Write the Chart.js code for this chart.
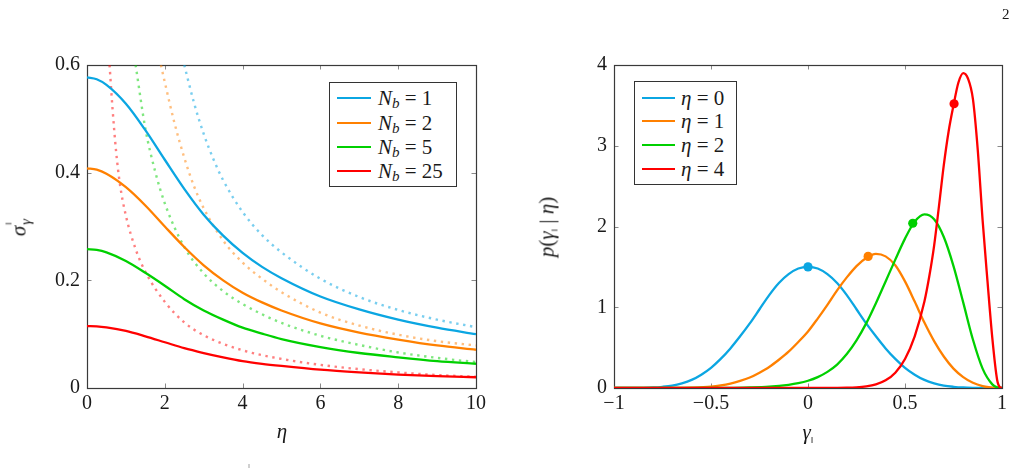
<!DOCTYPE html>
<html>
<head>
<meta charset="utf-8">
<script src="https://cdn.jsdelivr.net/npm/chart.js@4"></script>
<style>
  body { margin: 0; background: #fff; width: 1022px; height: 472px; position: relative; overflow: hidden; color: #1a1a1a; }
  body, div, span, i, sub { font-family: "Liberation Serif", "Times New Roman", serif; }
  canvas { position: absolute; top: 0; }
  #leftChart { left: 0; }
  #rightChart { left: 511px; }
  .txt { position: absolute; white-space: nowrap; font-size: 21px; line-height: 1; }
  .rot { transform: translate(-50%, -50%) rotate(-90deg); }
  .ctr { transform: translate(-50%, -50%); }
  .legend { position: absolute; border: 1px solid #333; background: #fff; box-sizing: border-box; }
  .legend .row { position: absolute; left: 0; height: 24px; line-height: 24px; font-size: 21px; white-space: nowrap; }
  .legend .swatch { position: absolute; height: 2.4px; }
  .legend .lab { position: absolute; top: 0; }
  .legend sub { font-size: 15px; vertical-align: -3px; line-height: 0; }
</style>
</head>
<body>
<canvas id="leftChart" width="511" height="472"></canvas>
<canvas id="rightChart" width="511" height="472"></canvas>

<div class="txt" style="left:1002px; top:7px; font-size:15px;">2</div>
<div class="txt" style="left:248px; top:463px; font-size:7px; color:#777;">‖</div>

<div class="txt rot" style="left:19px; top:226px;"><i>σ</i><span style="position:relative; display:inline-block; width:10px; height:14px;"><span style="position:absolute; left:1px; top:-7px; font-size:9px;">‖</span><span style="position:absolute; left:1px; top:7px; font-size:15px;"><i>γ</i></span></span></div>
<div class="txt ctr" style="left:282px; top:431px;"><i>η</i></div>

<div class="txt rot" style="left:547px; top:227px;"><i>p</i>(<i>γ</i><span style="font-size:9px; position:relative; top:4px;">‖</span> | <i>η</i>)</div>
<div class="txt ctr" style="left:808px; top:432px;"><i>γ</i><span style="font-size:9px; position:relative; top:4px;">‖</span></div>

<div class="legend" id="legendL" style="left:329px; top:82px; width:128px; height:105px;"></div>
<div class="legend" id="legendR" style="left:634px; top:81px; width:103px; height:104px;"></div>

<script>
// ---- left panel: sigma vs eta ----
var nbValues = [1, 2, 5, 25];
var etaSolid = [0, 0.25, 0.5, 1, 1.5, 2, 2.5, 3, 3.5, 4, 4.5, 5, 6, 7, 8, 9, 10];
var sigmaNb1 = [0.577, 0.5735, 0.563, 0.528, 0.479, 0.424, 0.370, 0.322, 0.283, 0.251, 0.225, 0.204, 0.170, 0.146, 0.127, 0.112, 0.100];
var sigmaNb2 = [0.408, 0.4055, 0.398, 0.373, 0.339, 0.300, 0.262, 0.228, 0.200, 0.177, 0.159, 0.144, 0.120, 0.103, 0.090, 0.079, 0.071];
var sigmaNb5 = [0.258, 0.2565, 0.252, 0.236, 0.214, 0.190, 0.165, 0.144, 0.127, 0.112, 0.101, 0.091, 0.076, 0.065, 0.057, 0.050, 0.045];
var sigmaNb25 = [0.115, 0.1145, 0.1125, 0.106, 0.096, 0.085, 0.074, 0.065, 0.057, 0.050, 0.045, 0.041, 0.034, 0.029, 0.025, 0.022, 0.020];

// dotted (asymptotic) curves, each starts where it enters the plot at 0.6
var etaAsymNb1 = [2.5, 2.75, 3, 3.25, 3.5, 4, 4.5, 5, 6, 7, 8, 9, 10];
var asymNb1 = [0.600, 0.530, 0.472, 0.425, 0.386, 0.327, 0.284, 0.252, 0.203, 0.169, 0.145, 0.127, 0.113];
var etaAsymNb2 = [1.9, 2, 2.25, 2.5, 2.75, 3, 3.5, 4, 4.5, 5, 6, 7, 8, 9, 10];
var asymNb2 = [0.600, 0.568, 0.492, 0.428, 0.375, 0.334, 0.274, 0.233, 0.203, 0.178, 0.140, 0.116, 0.099, 0.087, 0.079];
var etaAsymNb5 = [1.25, 1.5, 1.75, 2, 2.5, 3, 3.5, 4, 4.5, 5, 6, 7, 8, 9, 10];
var asymNb5 = [0.600, 0.482, 0.403, 0.343, 0.262, 0.213, 0.180, 0.156, 0.137, 0.121, 0.097, 0.080, 0.066, 0.056, 0.048];
var etaAsymNb25 = [0.58, 0.65, 0.75, 0.85, 1, 1.25, 1.5, 2, 2.5, 3, 4, 5, 6, 7, 8, 9, 10];
var asymNb25 = [0.600, 0.525, 0.438, 0.377, 0.320, 0.258, 0.216, 0.160, 0.122, 0.098, 0.070, 0.054, 0.043, 0.035, 0.029, 0.024, 0.021];

// ---- right panel: p(gamma | eta) ----
var etaValues = [0, 1, 2, 4];
var gammaEta0 = [-1, -0.9, -0.85, -0.8, -0.75, -0.7, -0.65, -0.6, -0.55, -0.5, -0.45, -0.4, -0.35, -0.3, -0.25, -0.2, -0.15, -0.1, -0.05, 0,
                 0.05, 0.1, 0.15, 0.2, 0.25, 0.3, 0.35, 0.4, 0.45, 0.5, 0.55, 0.6, 0.65, 0.7, 0.75, 0.8, 0.85, 0.9, 1];
var pEta0 = [0, 0.0005, 0.002, 0.006, 0.015, 0.03, 0.058, 0.10, 0.165, 0.25, 0.36, 0.49, 0.64, 0.80, 0.975, 1.15, 1.30, 1.41, 1.48, 1.50,
             1.48, 1.41, 1.30, 1.15, 0.975, 0.80, 0.64, 0.49, 0.36, 0.25, 0.165, 0.10, 0.058, 0.03, 0.015, 0.006, 0.002, 0.0005, 0];
var gammaEta1 = [-1, -0.8, -0.7, -0.6, -0.5, -0.45, -0.4, -0.35, -0.3, -0.25, -0.2, -0.15, -0.1, -0.05, 0, 0.05, 0.1, 0.15, 0.2, 0.25,
                 0.3, 0.35, 0.4, 0.45, 0.5, 0.55, 0.6, 0.65, 0.7, 0.75, 0.8, 0.85, 0.9, 0.95, 1];
var pEta1 = [0, 0, 0.001, 0.005, 0.017, 0.032, 0.055, 0.088, 0.13, 0.19, 0.26, 0.35, 0.45, 0.57, 0.70, 0.86, 1.03, 1.21, 1.37, 1.51,
             1.61, 1.66, 1.63, 1.52, 1.32, 1.07, 0.81, 0.58, 0.39, 0.24, 0.135, 0.065, 0.024, 0.005, 0];
var gammaEta2 = [-1, -0.5, -0.4, -0.3, -0.2, -0.1, -0.05, 0, 0.05, 0.1, 0.15, 0.2, 0.25, 0.3, 0.35, 0.4, 0.45, 0.5, 0.55, 0.6,
                 0.65, 0.7, 0.75, 0.8, 0.85, 0.9, 0.95, 0.975, 1];
var pEta2 = [0, 0, 0.002, 0.006, 0.016, 0.04, 0.06, 0.09, 0.135, 0.20, 0.29, 0.42, 0.59, 0.80, 1.05, 1.32, 1.59, 1.85, 2.06, 2.15,
             2.09, 1.87, 1.51, 1.06, 0.60, 0.24, 0.045, 0.008, 0];
var gammaEta4 = [-1, 0.1, 0.2, 0.25, 0.3, 0.35, 0.4, 0.45, 0.5, 0.55, 0.6, 0.625, 0.65, 0.675, 0.7, 0.725, 0.75, 0.775, 0.8,
                 0.825, 0.85, 0.875, 0.9, 0.925, 0.95, 0.975, 0.99, 1];
var pEta4 = [0, 0, 0.003, 0.008, 0.02, 0.045, 0.095, 0.19, 0.36, 0.64, 1.07, 1.38, 1.76, 2.25, 2.76, 3.18, 3.50, 3.78, 3.90,
             3.83, 3.58, 2.95, 2.08, 1.33, 0.62, 0.10, 0.008, 0];
// marked points on each curve
var markGamma = [0, 0.31, 0.54, 0.753];
var markP = [1.50, 1.63, 2.04, 3.52];

var colors = ['#0ba6e2', '#ff8000', '#00d000', '#ff0000'];
var fadeColors = ['rgba(11,166,226,0.55)', 'rgba(255,128,0,0.5)', 'rgba(0,208,0,0.5)', 'rgba(255,0,0,0.5)'];
var serifFamily = '"Liberation Serif", "Times New Roman", serif';
var tickFont = { family: serifFamily, size: 20 };

function pts(xs, ys) {
  return xs.map(function (x, i) { return { x: x, y: ys[i] }; });
}

function minusSign(v) {
  return String(v).replace('-', '\u2212');
}

// frame + inward ticks on all four sides (pgfplots look)
var framePlugin = {
  id: 'frame',
  beforeDatasetsDraw: function (chart) {
    var ctx = chart.ctx, a = chart.chartArea, sx = chart.scales.x, sy = chart.scales.y;
    var tl = 4.5;
    ctx.save();
    ctx.strokeStyle = '#8a8a8a';
    ctx.lineWidth = 1;
    ctx.beginPath();
    sx.ticks.forEach(function (t) {
      var px = Math.round(sx.getPixelForValue(t.value)) + 0.5;
      ctx.moveTo(px, a.bottom); ctx.lineTo(px, a.bottom - tl);
      ctx.moveTo(px, a.top); ctx.lineTo(px, a.top + tl);
    });
    sy.ticks.forEach(function (t) {
      var py = Math.round(sy.getPixelForValue(t.value)) + 0.5;
      ctx.moveTo(a.left, py); ctx.lineTo(a.left + tl, py);
      ctx.moveTo(a.right, py); ctx.lineTo(a.right - tl, py);
    });
    ctx.stroke();
    ctx.strokeStyle = '#3a3a3a';
    ctx.lineWidth = 1.2;
    ctx.strokeRect(Math.round(a.left) + 0.5, Math.round(a.top) + 0.5,
                   Math.round(a.right - a.left), Math.round(a.bottom - a.top));
    ctx.restore();
  }
};

function lineSet(data, color, width, dash, order) {
  return {
    data: data,
    borderColor: color,
    borderWidth: width,
    borderDash: dash,
    borderCapStyle: 'butt',
    borderJoinStyle: 'round',
    pointRadius: 0,
    fill: false,
    cubicInterpolationMode: 'monotone',
    order: order
  };
}

function baseOptions(xOpts, yOpts, padRight, yWidth) {
  return {
    responsive: false,
    animation: false,
    devicePixelRatio: 1,
    layout: { padding: { left: 0, top: 65, right: padRight, bottom: 0 } },
    plugins: { legend: { display: false }, tooltip: { enabled: false } },
    scales: {
      x: Object.assign({
        type: 'linear',
        grid: { display: false, drawTicks: false },
        border: { display: false },
        afterFit: function (s) { s.height = 84; }
      }, xOpts),
      y: Object.assign({
        type: 'linear',
        grid: { display: false, drawTicks: false },
        border: { display: false },
        afterFit: function (s) { s.width = yWidth; }
      }, yOpts)
    }
  };
}

// ---- left chart ----
var solidSeries = [sigmaNb1, sigmaNb2, sigmaNb5, sigmaNb25];
var asymEta = [etaAsymNb1, etaAsymNb2, etaAsymNb5, etaAsymNb25];
var asymSeries = [asymNb1, asymNb2, asymNb5, asymNb25];
var leftSets = [];
for (var i = 0; i < 4; i++) {
  leftSets.push(lineSet(pts(asymEta[i], asymSeries[i]), fadeColors[i], 2.4, [2.4, 4.6], 10 + i));
}
for (var j = 0; j < 4; j++) {
  leftSets.push(lineSet(pts(etaSolid, solidSeries[j]), colors[j], 2.3, [], 4 - j));
}

new Chart(document.getElementById('leftChart'), {
  type: 'line',
  data: { datasets: leftSets },
  options: baseOptions(
    { min: 0, max: 10, ticks: { stepSize: 2, padding: 4, color: '#1a1a1a', font: tickFont, maxRotation: 0 } },
    { min: 0, max: 0.6, ticks: { stepSize: 0.2, padding: 7, color: '#1a1a1a', font: tickFont,
        callback: function (v) { return String(Math.round(v * 10) / 10); } } },
    35, 87),
  plugins: [framePlugin]
});

// ---- right chart ----
var gammaSeries = [gammaEta0, gammaEta1, gammaEta2, gammaEta4];
var pSeries = [pEta0, pEta1, pEta2, pEta4];
var rightSets = [];
for (var k = 0; k < 4; k++) {
  rightSets.push(lineSet(pts(gammaSeries[k], pSeries[k]), colors[k], 2.3, [], 8 - k));
}
for (var m = 0; m < 4; m++) {
  rightSets.push({
    data: [{ x: markGamma[m], y: markP[m] }],
    showLine: false,
    pointRadius: 4.6,
    pointBorderWidth: 0,
    pointBackgroundColor: colors[m],
    pointBorderColor: colors[m],
    order: 0
  });
}

new Chart(document.getElementById('rightChart'), {
  type: 'line',
  data: { datasets: rightSets },
  options: baseOptions(
    { min: -1, max: 1, ticks: { stepSize: 0.5, padding: 4, color: '#1a1a1a', font: tickFont, maxRotation: 0,
        callback: function (v) { return minusSign(v); } } },
    { min: 0, max: 4, ticks: { stepSize: 1, padding: 7, color: '#1a1a1a', font: tickFont } },
    20, 103),
  plugins: [framePlugin]
});

// ---- legends (html so the subscripts are real text) ----
function buildLegend(id, labels, rowTops, swLeft, swWidth, textLeft) {
  var box = document.getElementById(id);
  labels.forEach(function (html, n) {
    var row = document.createElement('div');
    row.className = 'row';
    row.style.top = (rowTops[n] - 12) + 'px';
    row.style.width = '100%';
    row.innerHTML = '<span class="swatch" style="left:' + swLeft + 'px; width:' + swWidth + 'px; top:11px; background:' +
      colors[n] + ';"></span><span class="lab" style="left:' + textLeft + 'px;">' + html + '</span>';
    box.appendChild(row);
  });
}

buildLegend('legendL', nbValues.map(function (n) { return '<i>N</i><sub><i>b</i></sub> = ' + n; }),
            [15, 39.5, 64, 88], 7, 34, 48);
buildLegend('legendR', etaValues.map(function (e) { return '<i>η</i> = ' + e; }),
            [15.5, 39, 62.5, 86.5], 7, 33, 46);
</script>
</body>
</html>
